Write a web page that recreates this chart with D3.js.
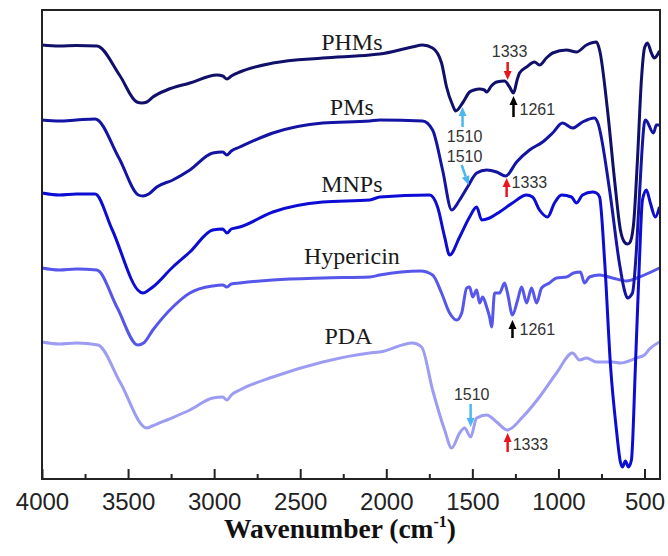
<!DOCTYPE html>
<html>
<head>
<meta charset="utf-8">
<script src="https://cdn.jsdelivr.net/npm/d3@7"></script>
<style>
  body { margin: 0; background: #fff; }
  .tick text { font-family: "Liberation Sans", Arial, sans-serif; font-size: 24px; fill: #222; }
  .tick line { stroke: #222; stroke-width: 2; }
</style>
</head>
<body>
<div class="chart"></div>
<script>
// FTIR spectra, transmittance in arbitrary offset units
const names = ["PHMs", "PMs", "MNPs", "Hypericin", "PDA"];
const colors = ["#10106a", "#1414a4", "#0c0cd4", "#5656ea", "#9c9cf2"];

const phms = [[4000,86.8],[3900,86.6],[3800,86.7],[3681,86.6],[3550,80.8],[3449,75.4],[3420,75.2],[3391,75.4],
  [3356,76.4],[3275,77.8],[3141,79.2],[2984,80.8],[2950,80.6],[2926,80.0],[2900,80.6],[2851,81.4],[2659,83.2],
  [2369,84.2],[2096,84.8],[2038,85.0],[1850,86.4],[1789,86.8],[1731,86.2],[1679,83.2],[1650,78.4],[1615,74.8],
  [1597,73.6],[1557,75.2],[1516,77.4],[1490,77.8],[1458,78.0],[1430,77.8],[1417,77.4],[1390,78.6],[1359,79.4],
  [1313,79.6],[1284,78.4],[1261,77.2],[1240,79.8],[1226,81.2],[1185,82.4],[1139,83.4],[1110,82.8],[1070,84.2],
  [1034,85.2],[953,85.8],[895,85.4],[837,86.8],[779,87.4],[761,85.8],[715,73.8],[674,59.8],[640,49.8],[617,47.4],
  [600,47.0],[587,47.2],[564,50.8],[541,63.8],[518,79.8],[500,86.2],[483,87.2],[460,85.2],[443,84.2],[413,85.6]];

const pms = [[4000,71.8],[3900,71.6],[3800,71.8],[3692,72.0],[3553,64.2],[3440,56.8],[3414,56.6],[3380,57.0],
  [3333,58.4],[3240,59.8],[3141,61.8],[3008,65.2],[2950,65.4],[2926,64.8],[2900,65.6],[2851,66.4],[2659,69.2],
  [2369,71.2],[2096,71.6],[2038,71.8],[1789,71.6],[1731,69.8],[1673,61.8],[1620,53.8],[1574,55.8],[1528,58.4],
  [1475,61.2],[1417,61.8],[1359,61.4],[1307,60.6],[1243,63.4],[1168,65.8],[1092,67.4],[1034,69.2],[976,71.2],
  [918,70.2],[860,71.4],[791,72.2],[773,71.4],[703,57.8],[646,43.2],[617,37.8],[599,36.2],[570,37.2],[547,45.8],
  [530,56.4],[500,71.4],[494,71.8],[448,69.2],[431,70.8],[413,70.8]];

const mnps = [[4000,57.2],[3900,56.8],[3800,57.0],[3692,57.0],[3594,50.0],[3430,37.4],[3414,37.2],[3380,37.8],
  [3356,38.4],[3240,42.4],[3141,45.4],[3008,49.8],[2950,50.0],[2926,49.2],[2900,50.0],[2851,50.4],[2659,53.4],
  [2369,55.4],[2096,55.8],[2038,56.4],[1748,56.8],[1702,54.4],[1661,48.4],[1632,44.8],[1574,48.4],[1516,52.4],
  [1475,54.4],[1446,51.8],[1400,52.2],[1342,53.4],[1267,55.2],[1185,56.8],[1150,56.4],[1110,53.8],[1063,52.4],
  [1023,55.2],[982,56.8],[924,56.4],[895,55.2],[860,56.8],[802,57.4],[779,57.2],[761,56.4],[732,43.8],[697,22.4],
  [663,9.8],[640,3.4],[628,2.4],[611,3.6],[593,2.4],[576,3.8],[553,22.4],[530,43.2],[512,55.8],[489,57.8],
  [466,55.2],[437,52.4],[413,54.4]];

const hypericin = [[4000,42.2],[3900,41.8],[3800,42.0],[3681,41.8],[3565,34.4],[3443,26.8],[3410,27.2],[3356,29.8],
  [3240,34.4],[3141,37.2],[3008,38.6],[2950,38.8],[2926,38.4],[2900,39.0],[2851,39.2],[2659,39.8],[2369,40.2],
  [2096,40.4],[2038,40.8],[1800,41.6],[1731,40.8],[1679,37.2],[1632,33.2],[1591,31.8],[1562,33.2],[1533,38.2],
  [1516,38.4],[1498,36.4],[1475,37.8],[1458,35.2],[1440,36.4],[1417,34.4],[1400,32.4],[1388,30.4],[1371,37.2],
  [1342,37.2],[1313,39.2],[1296,37.2],[1267,32.8],[1237,35.8],[1214,38.4],[1185,35.2],[1156,38.2],[1127,35.2],
  [1098,38.2],[1052,39.2],[1011,40.2],[953,40.4],[912,41.2],[872,41.4],[849,39.2],[820,40.4],[761,40.8],
  [686,40.2],[605,39.6],[530,40.4],[413,42.2]];

const pda = [[4000,27.4],[3900,27.0],[3800,27.2],[3675,26.8],[3547,19.4],[3391,10.2],[3360,10.6],[3275,11.8],
  [3141,13.8],[3008,16.2],[2950,16.4],[2926,15.8],[2900,16.8],[2851,17.8],[2659,20.4],[2369,23.4],[2096,25.2],
  [2038,25.4],[1847,27.2],[1795,26.4],[1731,17.8],[1661,9.8],[1620,6.2],[1574,9.2],[1545,10.2],[1510,8.4],
  [1475,12.2],[1417,12.8],[1359,11.4],[1296,9.8],[1208,12.4],[1110,16.4],[1011,21.2],[918,25.2],[878,23.8],
  [837,24.2],[779,23.4],[686,23.4],[640,23.2],[547,24.2],[500,24.8],[471,26.0],[413,27.4]];

const seriesData = [phms, pms, mnps, hypericin, pda];

// curve labels: [wavenumber, value]
const labelPos = [[2200, 85.8], [2200, 72.8], [2200, 57.4], [2200, 43.0], [2220, 27.0]];

// peak arrows: [wFrom, vFrom, wTo, vTo, colour]
const arrows = [
  [1295, 83.4, 1295, 79.8, "#e8161c"],
  [1261, 72.4, 1261, 76.6, "#000000"],
  [1557, 70.4, 1557, 74.4, "#4cb6f2"],
  [1562, 62.8, 1522, 58.8, "#4cb6f2"],
  [1301, 56.4, 1301, 60.2, "#e8161c"],
  [1267, 28.2, 1267, 31.8, "#000000"],
  [1510, 15.0, 1510, 10.4, "#4cb6f2"],
  [1295, 5.4, 1295, 9.2, "#e8161c"]
];
// peak texts: [text, wavenumber, value, anchor]
const peakTexts = [
  ["1333", 1284, 84.4, "middle"],
  ["1261", 1226, 72.8, "start"],
  ["1510", 1545, 67.4, "middle"],
  ["1510", 1545, 63.4, "middle"],
  ["1333", 1272, 58.2, "start"],
  ["1261", 1226, 28.8, "start"],
  ["1510", 1504, 15.8, "middle"],
  ["1333", 1266, 5.8, "start"]
];

const width = 668, height = 556;
const x = d3.scaleLinear().domain([4000, 410]).range([42, 660]);
const y = d3.scaleLinear().domain([0, 94]).range([479, 9]);

const svg = d3.select(".chart").append("svg")
  .attr("width", width)
  .attr("height", height);

const line = d3.line()
  .x(d => x(d[0]))
  .y(d => y(d[1]))
  .curve(d3.curveMonotoneX);

// draw bottom curve first so the darker ones sit on top
for (let i = seriesData.length - 1; i >= 0; i--) {
  svg.append("path")
    .datum(seriesData[i])
    .attr("d", line)
    .attr("fill", "none")
    .attr("stroke", colors[i])
    .attr("stroke-width", 3)
    .attr("stroke-linejoin", "round");
}

svg.selectAll(".name")
  .data(names)
  .join("text")
  .attr("class", "name")
  .attr("x", (d, i) => x(labelPos[i][0]))
  .attr("y", (d, i) => y(labelPos[i][1]))
  .attr("text-anchor", "middle")
  .style("font-family", '"Liberation Serif", "Times New Roman", serif')
  .style("font-size", "24px")
  .style("fill", "#1a1a1a")
  .text(d => d);

// arrows
arrows.forEach(a => {
  const x1 = x(a[0]), y1 = y(a[1]), x2 = x(a[2]), y2 = y(a[3]);
  const len = Math.hypot(x2 - x1, y2 - y1);
  const ux = (x2 - x1) / len, uy = (y2 - y1) / len;
  const head = 9, hw = 4;
  const bx = x2 - ux * head, by = y2 - uy * head;
  svg.append("line")
    .attr("x1", x1).attr("y1", y1)
    .attr("x2", bx).attr("y2", by)
    .attr("stroke", a[4])
    .attr("stroke-width", 2.5);
  svg.append("polygon")
    .attr("points", [
      [x2, y2],
      [bx - uy * hw, by + ux * hw],
      [bx + uy * hw, by - ux * hw]
    ].map(p => p.join(",")).join(" "))
    .attr("fill", a[4]);
});

svg.selectAll(".peak")
  .data(peakTexts)
  .join("text")
  .attr("class", "peak")
  .attr("x", d => x(d[1]))
  .attr("y", d => y(d[2]))
  .attr("text-anchor", d => d[3])
  .style("font-family", '"Liberation Sans", Arial, sans-serif')
  .style("font-size", "16px")
  .style("fill", "#333")
  .text(d => d[0]);

// axis
const gx = svg.append("g")
  .attr("transform", "translate(0,479)")
  .call(d3.axisBottom(x)
    .tickValues(d3.range(4000, 400, -500))
    .tickSizeInner(-10)
    .tickSizeOuter(0)
    .tickPadding(14)
    .tickFormat(d3.format("d")));
gx.select(".domain").remove();

const gm = svg.append("g")
  .attr("transform", "translate(0,479)")
  .call(d3.axisBottom(x)
    .tickValues(d3.range(3750, 500, -500))
    .tickSizeInner(-5)
    .tickSizeOuter(0)
    .tickFormat(""));
gm.select(".domain").remove();

// frame
svg.append("rect")
  .attr("x", 42).attr("y", 10)
  .attr("width", 618).attr("height", 469)
  .attr("fill", "none")
  .attr("stroke", "#222")
  .attr("stroke-width", 2);

const title = svg.append("text")
  .attr("x", 340)
  .attr("y", 538)
  .attr("text-anchor", "middle")
  .style("font-family", '"Liberation Serif", "Times New Roman", serif')
  .style("font-size", "27.5px")
  .style("font-weight", "bold")
  .style("fill", "#111");
title.append("tspan").text("Wavenumber (cm");
title.append("tspan").attr("dy", -11).style("font-size", "16px").text("-1");
title.append("tspan").attr("dy", 11).text(")");
</script>
</body>
</html>
